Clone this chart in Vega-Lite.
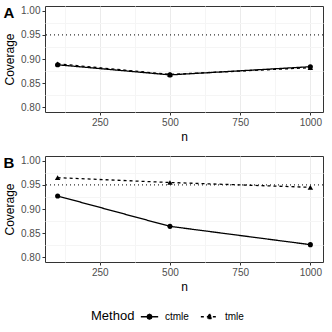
{
  "$schema": "https://vega.github.io/schema/vega-lite/v6.json",
  "padding": {"left": 3, "top": 5, "right": 6, "bottom": 5},
  "config": {
    "font": "Liberation Sans",
    "view": {"stroke": "#333333", "strokeWidth": 1},
    "axis": {"domain": false, "gridColor": "#ebebeb", "tickColor": "#333333", "tickSize": 3, "labelColor": "#4d4d4d", "labelFontSize": 10, "titleFontSize": 12, "titleFontWeight": "normal", "titleColor": "#000000", "labelPadding": 2, "labelOverlap": false},
    "concat": {"spacing": 12},
    "title": {"fontSize": 15, "fontWeight": "bold", "color": "#000000"}
  },
  "datasets": {
    "A": [
      {"n": 100, "Coverage": 0.888, "Method": "ctmle"},
      {"n": 500, "Coverage": 0.867, "Method": "ctmle"},
      {"n": 1000, "Coverage": 0.884, "Method": "ctmle"},
      {"n": 100, "Coverage": 0.890, "Method": "tmle"},
      {"n": 500, "Coverage": 0.868, "Method": "tmle"},
      {"n": 1000, "Coverage": 0.882, "Method": "tmle"}
    ],
    "B": [
      {"n": 100, "Coverage": 0.927, "Method": "ctmle"},
      {"n": 500, "Coverage": 0.864, "Method": "ctmle"},
      {"n": 1000, "Coverage": 0.826, "Method": "ctmle"},
      {"n": 100, "Coverage": 0.965, "Method": "tmle"},
      {"n": 500, "Coverage": 0.955, "Method": "tmle"},
      {"n": 1000, "Coverage": 0.945, "Method": "tmle"}
    ],
    "ref": [{"ref": 0.95}]
  },
  "vconcat": [
    {
      "width": 278, "height": 106,
      "title": {"text": "A", "anchor": "start", "frame": "bounds", "offset": -15},
      "resolve": {"axis": {"x": "independent", "y": "independent"}},
      "layer": [
        {"data": {"name": "ref"}, "mark": {"type": "rule", "strokeDash": [1, 3], "color": "#333333", "strokeWidth": 1.3},
         "encoding": {"y": {"field": "ref", "type": "quantitative", "axis": null, "scale": {"domain": [0.79, 1.01], "nice": false, "zero": false}}}},
        {"data": {"name": "A"}, "mark": {"type": "line", "color": "black", "strokeWidth": 1.3},
         "encoding": {
           "x": {"field": "n", "type": "quantitative", "title": "n", "scale": {"domain": [55, 1045], "nice": false, "zero": false},
                 "axis": {"values": [250, 500, 750, 1000], "format": "d"}},
           "y": {"field": "Coverage", "type": "quantitative", "title": "Coverage",
                 "axis": {"values": [0.8, 0.85, 0.9, 0.95, 1.0], "format": ".2f"}},
           "strokeDash": {"field": "Method", "type": "nominal", "title": "Method", "scale": {"domain": ["ctmle", "tmle"], "range": [[1, 0], [3, 3]]},
             "legend": {"title": "Method", "orient": "none", "legendX": 46, "legendY": 301, "direction": "horizontal", "titleOrient": "left",
                        "titleFontSize": 13, "titleFontWeight": "normal", "titleColor": "#000000", "labelFontSize": 10, "labelColor": "#000000",
                        "symbolSize": 300, "symbolStrokeWidth": 1.3, "symbolFillColor": "black", "symbolStrokeColor": "black", "columnPadding": 9, "labelOffset": 6, "titlePadding": 5,
                        "encode": {"title": {"update": {"dy": {"value": 2}}}}}}
         }},
        {"data": {"name": "A"}, "transform": [{"filter": "datum.Method === 'ctmle'"}],
         "mark": {"type": "point", "shape": "circle", "filled": true, "color": "black", "size": 26, "opacity": 1},
         "encoding": {
           "x": {"field": "n", "type": "quantitative", "axis": {"orient": "top", "values": [125, 375, 625, 875], "labels": false, "ticks": false, "title": null, "grid": true, "gridColor": "#f5f5f5"}},
           "y": {"field": "Coverage", "type": "quantitative", "axis": {"orient": "right", "values": [0.825, 0.875, 0.925, 0.975], "labels": false, "ticks": false, "title": null, "grid": true, "gridColor": "#f5f5f5"}}
         }},
        {"data": {"name": "A"}, "transform": [{"filter": "datum.Method === 'tmle'"}],
         "mark": {"type": "point", "shape": "triangle-up", "filled": true, "color": "black", "size": 30, "opacity": 1},
         "encoding": {
           "x": {"field": "n", "type": "quantitative", "axis": null},
           "y": {"field": "Coverage", "type": "quantitative", "axis": null}
         }},
        {"data": {"name": "A"}, "transform": [{"filter": "false"}],
         "mark": {"type": "point", "filled": true, "color": "black"},
         "encoding": {
           "x": {"field": "n", "type": "quantitative", "axis": null},
           "y": {"field": "Coverage", "type": "quantitative", "axis": null},
           "shape": {"field": "Method", "type": "nominal", "title": "Method", "scale": {"domain": ["ctmle", "tmle"], "range": ["M-1,0L1,0M0.28,0L0.2,0.2L0,0.28L-0.2,0.2L-0.28,0L-0.2,-0.2L0,-0.28L0.2,-0.2Z", "M-1,0L1,0M0,-0.33L0.3,0.2L-0.3,0.2Z"]}}
         }}
      ]
    },
    {
      "width": 278, "height": 106,
      "title": {"text": "B", "anchor": "start", "frame": "bounds", "offset": -15},
      "resolve": {"axis": {"x": "independent", "y": "independent"}},
      "layer": [
        {"data": {"name": "ref"}, "mark": {"type": "rule", "strokeDash": [1, 3], "color": "#333333", "strokeWidth": 1.3},
         "encoding": {"y": {"field": "ref", "type": "quantitative", "axis": null, "scale": {"domain": [0.79, 1.01], "nice": false, "zero": false}}}},
        {"data": {"name": "B"}, "mark": {"type": "line", "color": "black", "strokeWidth": 1.3},
         "encoding": {
           "x": {"field": "n", "type": "quantitative", "title": "n", "scale": {"domain": [55, 1045], "nice": false, "zero": false},
                 "axis": {"values": [250, 500, 750, 1000], "format": "d"}},
           "y": {"field": "Coverage", "type": "quantitative", "title": "Coverage",
                 "axis": {"values": [0.8, 0.85, 0.9, 0.95, 1.0], "format": ".2f"}},
           "strokeDash": {"field": "Method", "type": "nominal", "title": "Method", "scale": {"domain": ["ctmle", "tmle"], "range": [[1, 0], [3, 3]]}}
         }},
        {"data": {"name": "B"}, "transform": [{"filter": "datum.Method === 'ctmle'"}],
         "mark": {"type": "point", "shape": "circle", "filled": true, "color": "black", "size": 26, "opacity": 1},
         "encoding": {
           "x": {"field": "n", "type": "quantitative", "axis": {"orient": "top", "values": [125, 375, 625, 875], "labels": false, "ticks": false, "title": null, "grid": true, "gridColor": "#f5f5f5"}},
           "y": {"field": "Coverage", "type": "quantitative", "axis": {"orient": "right", "values": [0.825, 0.875, 0.925, 0.975], "labels": false, "ticks": false, "title": null, "grid": true, "gridColor": "#f5f5f5"}}
         }},
        {"data": {"name": "B"}, "transform": [{"filter": "datum.Method === 'tmle'"}],
         "mark": {"type": "point", "shape": "triangle-up", "filled": true, "color": "black", "size": 30, "opacity": 1},
         "encoding": {
           "x": {"field": "n", "type": "quantitative", "axis": null},
           "y": {"field": "Coverage", "type": "quantitative", "axis": null}
         }},
        {"data": {"name": "B"}, "transform": [{"filter": "false"}],
         "mark": {"type": "point", "filled": true, "color": "black"},
         "encoding": {
           "x": {"field": "n", "type": "quantitative", "axis": null},
           "y": {"field": "Coverage", "type": "quantitative", "axis": null},
           "shape": {"field": "Method", "type": "nominal", "title": "Method", "scale": {"domain": ["ctmle", "tmle"], "range": ["M-1,0L1,0M0.28,0L0.2,0.2L0,0.28L-0.2,0.2L-0.28,0L-0.2,-0.2L0,-0.28L0.2,-0.2Z", "M-1,0L1,0M0,-0.33L0.3,0.2L-0.3,0.2Z"]}}
         }}
      ]
    }
  ]
}
